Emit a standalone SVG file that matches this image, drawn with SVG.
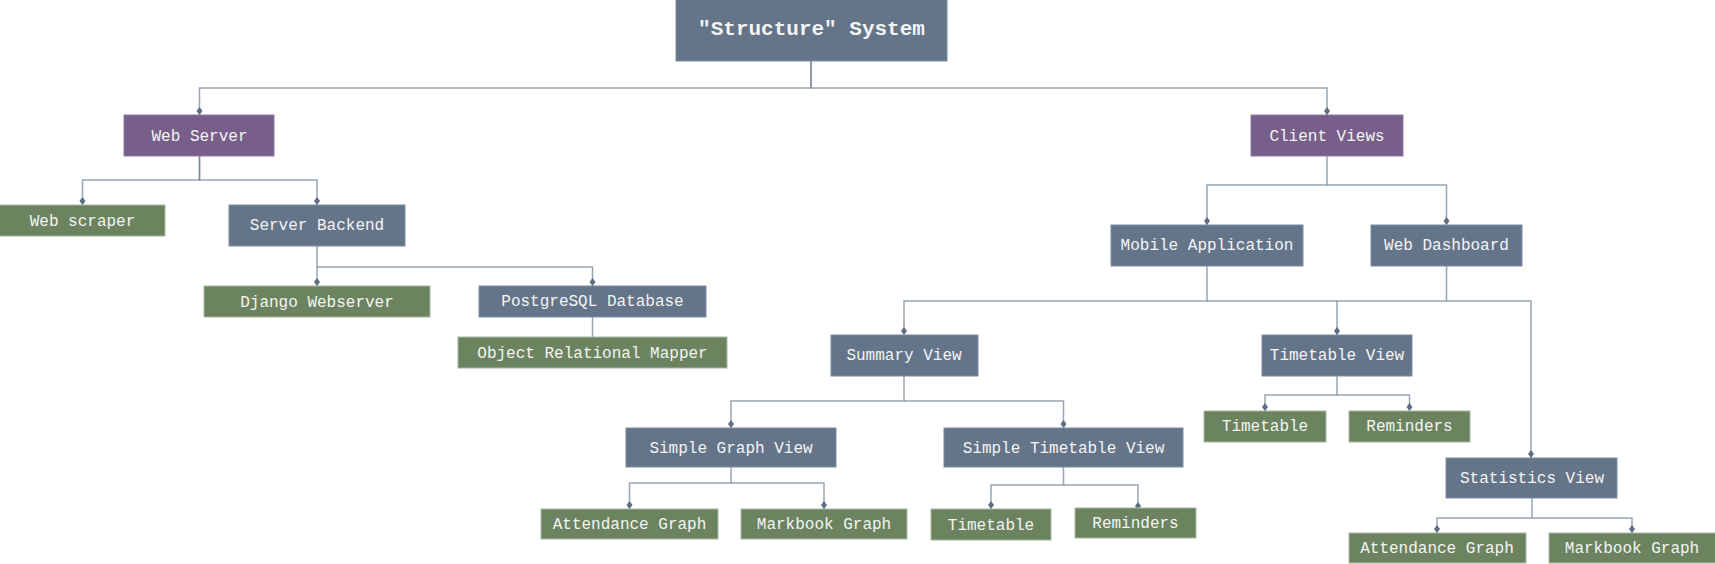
<svg xmlns="http://www.w3.org/2000/svg" width="1715" height="564" viewBox="0 0 1715 564">
<style>
.slate{fill:#647589;stroke:#7d8ca0;stroke-width:1}
.purple{fill:#775f8a;stroke:#8e79a0;stroke-width:1}
.green{fill:#6b845f;stroke:#a8b8a2;stroke-width:1}
.t{font-family:"Liberation Mono","Courier New",monospace;font-size:16px;fill:#f4f4f4;text-anchor:middle;dominant-baseline:central}
.title{font-size:21px;font-weight:bold}
.c path{fill:none;stroke:#6e7d91;stroke-opacity:0.7;stroke-width:1.5}
</style>
<defs>
<marker id="dia" markerUnits="userSpaceOnUse" markerWidth="8" markerHeight="7" viewBox="0 0 8 7" refX="8" refY="3.5" orient="auto">
<path d="M0,3.5 L4,0.5 L8,3.5 L4,6.5 Z" fill="#5f6f83"/>
</marker>
</defs>
<rect width="1715" height="564" fill="#ffffff"/>
<g class="c" id="connectors">
<path d="M811,61 V88 H199.5 V115" marker-end="url(#dia)"/>
<path d="M811,61 V88 H1327 V115" marker-end="url(#dia)"/>
<path d="M199.5,156 V180 H82.5 V205" marker-end="url(#dia)"/>
<path d="M199.5,156 V180 H317 V205" marker-end="url(#dia)"/>
<path d="M317,246 V267 V286" marker-end="url(#dia)"/>
<path d="M317,267 H592.5 V286" marker-end="url(#dia)"/>
<path d="M592.5,317 V337"/>
<path d="M1327,156 V185 H1207 V225" marker-end="url(#dia)"/>
<path d="M1327,185 H1446.5 V225" marker-end="url(#dia)"/>
<path d="M1207,266 V301 H904 V335" marker-end="url(#dia)"/>
<path d="M1446.5,266 V301 H1207"/>
<path d="M1337,301 V335" marker-end="url(#dia)"/>
<path d="M1446.5,301 H1531 V458" marker-end="url(#dia)"/>
<path d="M904,376 V401 H731 V428" marker-end="url(#dia)"/>
<path d="M904,401 H1063.5 V428" marker-end="url(#dia)"/>
<path d="M731,467 V483 H629.5 V509" marker-end="url(#dia)"/>
<path d="M731,483 H824 V509" marker-end="url(#dia)"/>
<path d="M1063.5,467 V485 H991 V509" marker-end="url(#dia)"/>
<path d="M1063.5,485 H1138 V510" marker-end="url(#dia)"/>
<path d="M1337,376 V395 H1265 V411" marker-end="url(#dia)"/>
<path d="M1337,395 H1409.5 V411" marker-end="url(#dia)"/>
<path d="M1532,498 V518 H1437 V533" marker-end="url(#dia)"/>
<path d="M1532,518 H1632 V533" marker-end="url(#dia)"/>
</g>
<g id="title"><rect class="slate" x="676" y="-1" width="271" height="62"/><text class="t title" x="811.5" y="29.5">"Structure" System</text></g>
<g id="webserver"><rect class="purple" x="124" y="115" width="150" height="41"/><text class="t" x="199.5" y="137">Web Server</text></g>
<g id="clientviews"><rect class="purple" x="1251" y="115" width="152" height="41"/><text class="t" x="1327" y="137">Client Views</text></g>
<g id="webscraper"><rect class="green" x="-1" y="205" width="166" height="31"/><text class="t" x="82.5" y="221.5">Web scraper</text></g>
<g id="serverbackend"><rect class="slate" x="229" y="205" width="176" height="41"/><text class="t" x="317" y="225.5">Server Backend</text></g>
<g id="django"><rect class="green" x="204" y="286" width="226" height="31"/><text class="t" x="317" y="302.5">Django Webserver</text></g>
<g id="postgres"><rect class="slate" x="479" y="286" width="227" height="31"/><text class="t" x="592.5" y="302">PostgreSQL Database</text></g>
<g id="orm"><rect class="green" x="458" y="337" width="269" height="31"/><text class="t" x="592.5" y="353.5">Object Relational Mapper</text></g>
<g id="mobileapp"><rect class="slate" x="1111" y="225" width="192" height="41"/><text class="t" x="1207" y="246">Mobile Application</text></g>
<g id="webdashboard"><rect class="slate" x="1371" y="225" width="151" height="41"/><text class="t" x="1446.5" y="246">Web Dashboard</text></g>
<g id="summaryview"><rect class="slate" x="831" y="335" width="147" height="41"/><text class="t" x="904" y="356">Summary View</text></g>
<g id="timetableview"><rect class="slate" x="1262" y="335" width="150" height="41"/><text class="t" x="1337" y="356">Timetable View</text></g>
<g id="statisticsview"><rect class="slate" x="1446" y="458" width="171" height="40"/><text class="t" x="1532" y="478.5">Statistics View</text></g>
<g id="simplegraph"><rect class="slate" x="626" y="428" width="210" height="39"/><text class="t" x="731" y="448.5">Simple Graph View</text></g>
<g id="simpletimetable"><rect class="slate" x="944" y="428" width="239" height="39"/><text class="t" x="1063.5" y="448.5">Simple Timetable View</text></g>
<g id="attendance1"><rect class="green" x="541" y="509" width="177" height="30"/><text class="t" x="629.5" y="524.5">Attendance Graph</text></g>
<g id="markbook1"><rect class="green" x="741" y="509" width="166" height="30"/><text class="t" x="824" y="524.5">Markbook Graph</text></g>
<g id="timetable1"><rect class="green" x="931" y="509" width="120" height="31"/><text class="t" x="991" y="526">Timetable</text></g>
<g id="reminders1"><rect class="green" x="1075" y="508" width="121" height="30"/><text class="t" x="1135.5" y="524">Reminders</text></g>
<g id="timetable2"><rect class="green" x="1204" y="411" width="122" height="31"/><text class="t" x="1265" y="427">Timetable</text></g>
<g id="reminders2"><rect class="green" x="1349" y="411" width="121" height="31"/><text class="t" x="1409.5" y="427">Reminders</text></g>
<g id="attendance2"><rect class="green" x="1349" y="533" width="177" height="30"/><text class="t" x="1437" y="549">Attendance Graph</text></g>
<g id="markbook2"><rect class="green" x="1549" y="533" width="167" height="30"/><text class="t" x="1632" y="549">Markbook Graph</text></g>
</svg>
